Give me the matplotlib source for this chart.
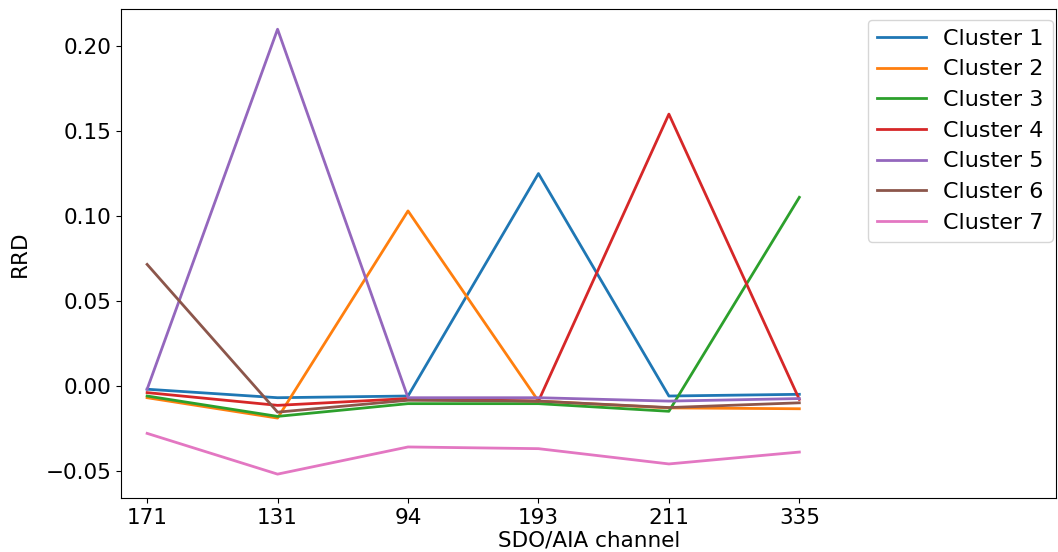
import matplotlib.pyplot as plt
import numpy as np

channels = ["171", "131", "94", "193", "211", "335"]

cluster_1 = [-0.002, -0.007, -0.006, 0.125, -0.006, -0.005]
cluster_2 = [-0.007, -0.019, 0.103, -0.009, -0.013, -0.0135]
cluster_3 = [-0.006, -0.018, -0.0105, -0.0105, -0.015, 0.111]
cluster_4 = [-0.004, -0.0115, -0.0075, -0.009, 0.160, -0.008]
cluster_5 = [-0.002, 0.210, -0.007, -0.007, -0.009, -0.0075]
cluster_6 = [0.0715, -0.0155, -0.0085, -0.009, -0.0128, -0.010]
cluster_7 = [-0.028, -0.052, -0.036, -0.037, -0.046, -0.039]

series = [cluster_1, cluster_2, cluster_3, cluster_4, cluster_5, cluster_6, cluster_7]
labels = [f"Cluster {i}" for i in range(1, 8)]

fig = plt.figure(figsize=(10.58, 5.52), dpi=100)
ax = fig.add_axes([0.1144, 0.098, 0.884, 0.886])

x = np.arange(len(channels))
for values, label in zip(series, labels):
    ax.plot(x, values, linewidth=2, label=label)

ax.set_xticks(x)
ax.set_xticklabels(channels)
ax.set_xlim(-0.2, 6.97)
ax.set_ylim(-0.066, 0.222)
ax.set_yticks([-0.05, 0.0, 0.05, 0.10, 0.15, 0.20])
ax.tick_params(labelsize=15.5)
ax.set_xlabel("SDO/AIA channel", fontsize=15.5, labelpad=2)
ax.set_ylabel("RRD", fontsize=15.5, labelpad=11)
ax.legend(loc="upper right", bbox_to_anchor=(1.008, 1.0), fontsize=16,
          labelspacing=0.48, handlelength=2.2)

fig.savefig("out.png")
